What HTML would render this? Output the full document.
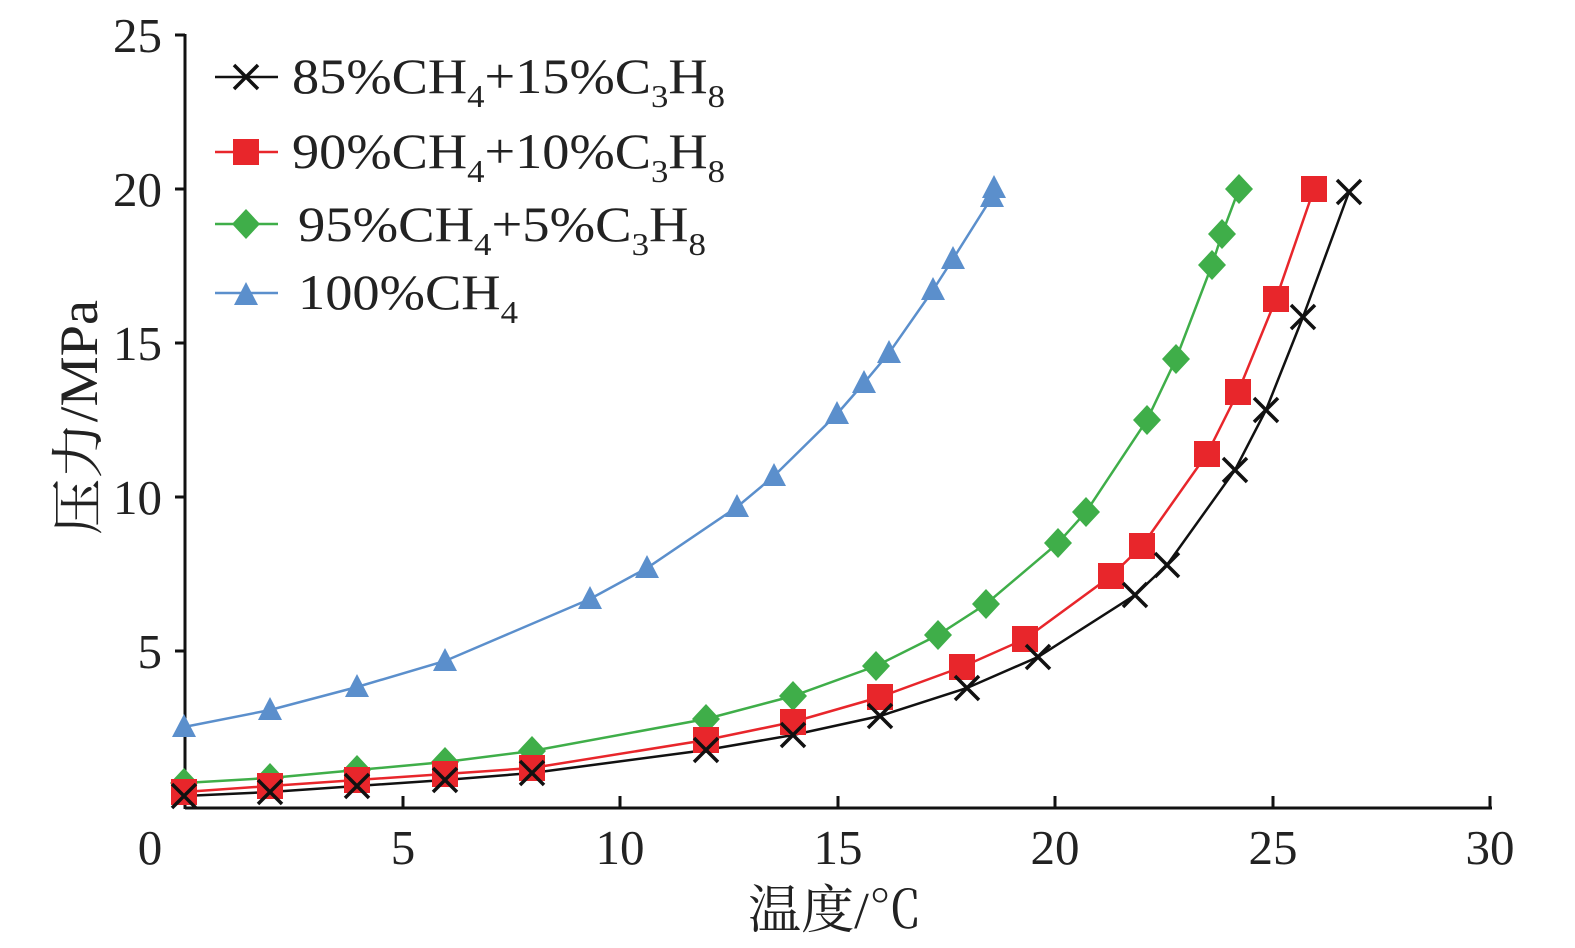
<!DOCTYPE html>
<html><head><meta charset="utf-8"><style>
html,body{margin:0;padding:0;background:#fff;}
svg text{font-family:"Liberation Serif","Noto Serif CJK SC",serif;fill:#222;}
</style></head><body>
<svg width="1575" height="943" viewBox="0 0 1575 943" xmlns="http://www.w3.org/2000/svg">
<defs>
<g id="sq"><rect x="-13" y="-13" width="26" height="26" fill="#e8262b"/></g>
<g id="dm"><polygon points="0,-15 14,0 0,15 -14,0" fill="#3fae49"/></g>
<g id="tr"><polygon points="0,-13 12,10 -12,10" fill="#5b8fcc"/></g>
<g id="cx"><path d="M-12,-12 L12,12 M12,-12 L-12,12" stroke="#111" stroke-width="3.5"/></g>
</defs>
<g stroke="#111" stroke-width="3" fill="none">
<line x1="185" y1="34" x2="185" y2="809"/>
<line x1="185" y1="808" x2="1492" y2="808"/>
<line x1="185" y1="35" x2="175" y2="35"/>
<line x1="185" y1="189" x2="175" y2="189"/>
<line x1="185" y1="343" x2="175" y2="343"/>
<line x1="185" y1="497" x2="175" y2="497"/>
<line x1="185" y1="651" x2="175" y2="651"/>
<line x1="403" y1="808" x2="403" y2="796"/>
<line x1="620" y1="808" x2="620" y2="796"/>
<line x1="838" y1="808" x2="838" y2="796"/>
<line x1="1055" y1="808" x2="1055" y2="796"/>
<line x1="1273" y1="808" x2="1273" y2="796"/>
<line x1="1490" y1="808" x2="1490" y2="796"/>
</g>
<g font-size="49" text-anchor="end">
<text x="162" y="52">25</text><text x="162" y="206">20</text><text x="162" y="360">15</text><text x="162" y="514">10</text><text x="162" y="668">5</text>
</g>
<g font-size="49" text-anchor="middle">
<text x="150" y="864">0</text><text x="403" y="864">5</text><text x="620" y="864">10</text><text x="838" y="864">15</text><text x="1055" y="864">20</text><text x="1273" y="864">25</text><text x="1490" y="864">30</text>
</g>
<text x="748" y="928" font-size="52" textLength="174" lengthAdjust="spacingAndGlyphs">温度/℃</text>
<text transform="translate(97,535) rotate(-90)" font-size="54" textLength="235" lengthAdjust="spacingAndGlyphs">压力/MPa</text>
<polyline fill="none" stroke="#5b8fcc" stroke-width="2.5" points="184,727 270,710 357,687 445,661 590,599 647,568 737,507 774,476 837,414 864,383 889,353 933,290 953,259 992,197 994,188"/>
<polyline fill="none" stroke="#3fae49" stroke-width="2.5" points="184,783 270,778 357,770 445,762 532,751 706,719 793,696 876,666 938,635 986,604 1058,543 1086,512 1147,420 1176,359 1212,265 1222,234 1239,189"/>
<polyline fill="none" stroke="#e8262b" stroke-width="2.5" points="184,792 270,786 357,780 445,774 532,768 706,740 793,722 880,697 962,667 1025,639 1111,576 1142,546 1207,454 1238,392 1276,299 1314,189"/>
<polyline fill="none" stroke="#111" stroke-width="2.5" points="184,796 270,792 357,786 445,780 532,773 706,750 793,735 880,716 967,688 1038,657 1135,595 1167,565 1235,470 1266,410 1303,317 1349,192"/>
<g>
<use href="#tr" x="184" y="727"/><use href="#tr" x="270" y="710"/><use href="#tr" x="357" y="687"/><use href="#tr" x="445" y="661"/><use href="#tr" x="590" y="599"/><use href="#tr" x="647" y="568"/><use href="#tr" x="737" y="507"/><use href="#tr" x="774" y="476"/><use href="#tr" x="837" y="414"/><use href="#tr" x="864" y="383"/><use href="#tr" x="889" y="353"/><use href="#tr" x="933" y="290"/><use href="#tr" x="953" y="259"/><use href="#tr" x="992" y="197"/><use href="#tr" x="994" y="188"/>
<use href="#dm" x="184" y="783"/><use href="#dm" x="270" y="778"/><use href="#dm" x="357" y="770"/><use href="#dm" x="445" y="762"/><use href="#dm" x="532" y="751"/><use href="#dm" x="706" y="719"/><use href="#dm" x="793" y="696"/><use href="#dm" x="876" y="666"/><use href="#dm" x="938" y="635"/><use href="#dm" x="986" y="604"/><use href="#dm" x="1058" y="543"/><use href="#dm" x="1086" y="512"/><use href="#dm" x="1147" y="420"/><use href="#dm" x="1176" y="359"/><use href="#dm" x="1212" y="265"/><use href="#dm" x="1222" y="234"/><use href="#dm" x="1239" y="189"/>
<use href="#sq" x="184" y="792"/><use href="#sq" x="270" y="786"/><use href="#sq" x="357" y="780"/><use href="#sq" x="445" y="774"/><use href="#sq" x="532" y="768"/><use href="#sq" x="706" y="740"/><use href="#sq" x="793" y="722"/><use href="#sq" x="880" y="697"/><use href="#sq" x="962" y="667"/><use href="#sq" x="1025" y="639"/><use href="#sq" x="1111" y="576"/><use href="#sq" x="1142" y="546"/><use href="#sq" x="1207" y="454"/><use href="#sq" x="1238" y="392"/><use href="#sq" x="1276" y="299"/><use href="#sq" x="1314" y="189"/>
<use href="#cx" x="184" y="796"/><use href="#cx" x="270" y="792"/><use href="#cx" x="357" y="786"/><use href="#cx" x="445" y="780"/><use href="#cx" x="532" y="773"/><use href="#cx" x="706" y="750"/><use href="#cx" x="793" y="735"/><use href="#cx" x="880" y="716"/><use href="#cx" x="967" y="688"/><use href="#cx" x="1038" y="657"/><use href="#cx" x="1135" y="595"/><use href="#cx" x="1167" y="565"/><use href="#cx" x="1235" y="470"/><use href="#cx" x="1266" y="410"/><use href="#cx" x="1303" y="317"/><use href="#cx" x="1349" y="192"/>
</g>
<line x1="215" y1="77" x2="278" y2="77" stroke="#111" stroke-width="2.5"/><use href="#cx" x="246" y="77"/>
<line x1="215" y1="152" x2="278" y2="152" stroke="#e8262b" stroke-width="2.5"/><use href="#sq" x="246" y="152"/>
<line x1="215" y1="224" x2="278" y2="224" stroke="#3fae49" stroke-width="2.5"/><use href="#dm" x="246" y="224"/>
<line x1="215" y1="293" x2="278" y2="293" stroke="#5b8fcc" stroke-width="2.5"/><use href="#tr" x="246" y="295"/>
<g font-size="50">
<text x="292" y="93" textLength="433" lengthAdjust="spacingAndGlyphs">85%CH<tspan font-size="32" dy="14">4</tspan><tspan dy="-14">+15%C</tspan><tspan font-size="32" dy="14">3</tspan><tspan dy="-14">H</tspan><tspan font-size="32" dy="14">8</tspan></text>
<text x="292" y="168" textLength="433" lengthAdjust="spacingAndGlyphs">90%CH<tspan font-size="32" dy="14">4</tspan><tspan dy="-14">+10%C</tspan><tspan font-size="32" dy="14">3</tspan><tspan dy="-14">H</tspan><tspan font-size="32" dy="14">8</tspan></text>
<text x="298" y="241" textLength="408" lengthAdjust="spacingAndGlyphs">95%CH<tspan font-size="32" dy="14">4</tspan><tspan dy="-14">+5%C</tspan><tspan font-size="32" dy="14">3</tspan><tspan dy="-14">H</tspan><tspan font-size="32" dy="14">8</tspan></text>
<text x="298" y="309" textLength="220" lengthAdjust="spacingAndGlyphs">100%CH<tspan font-size="32" dy="14">4</tspan></text>
</g>
</svg>
</body></html>
